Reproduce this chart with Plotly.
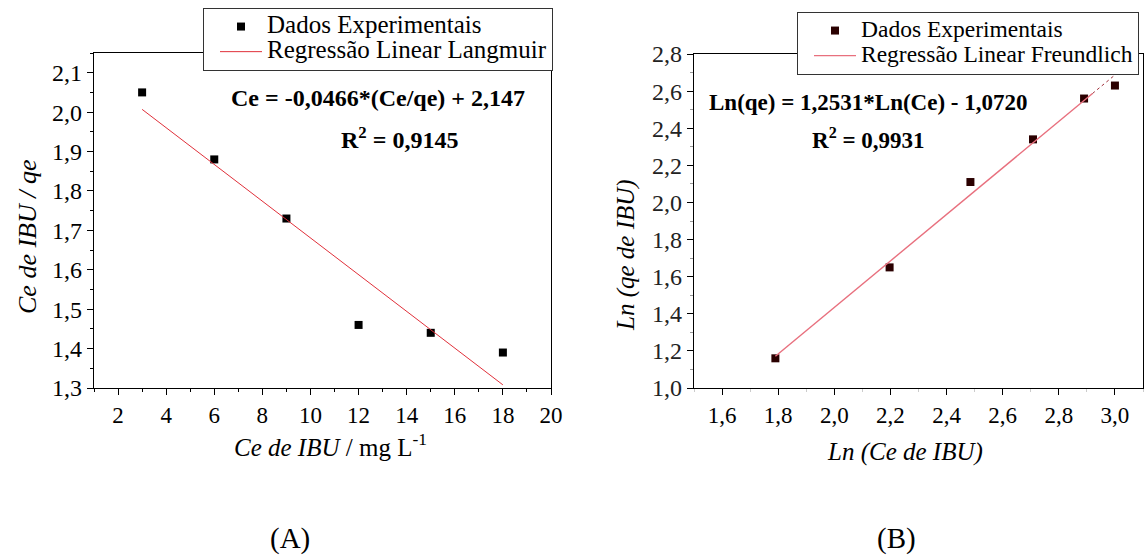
import plotly.graph_objects as go

W, H = 1145, 556

# ---------- data (A) Langmuir ----------
lang_x = [3, 6, 9, 12, 15, 18]
lang_y = [2.05, 1.88, 1.73, 1.46, 1.44, 1.39]
lang_fit_x = [3, 18]
lang_fit_y = [2.007, 1.308]

# ---------- data (B) Freundlich ----------
freu_x = [1.79, 2.197, 2.485, 2.708, 2.89, 3.0]
freu_y = [1.16, 1.65, 2.11, 2.34, 2.56, 2.63]
freu_fit_x = [1.79, 2.92]
freu_fit_y = [1.171, 2.587]
freu_ext_x = [2.92, 3.0]
freu_ext_y = [2.587, 2.687]

SERIF = "Liberation Serif"

def px(x):
    return x / W

def py(y):
    return 1 - y / H

def big(t, size):
    return '<span style="font-size:%spx">%s</span>' % (size, t)

fig = go.Figure()

fig.add_trace(go.Scatter(x=lang_x, y=lang_y, mode="markers", name=big("Dados Experimentais", 25),
                         marker=dict(symbol="square", size=8, color="black"),
                         xaxis="x", yaxis="y", legend="legend"))
fig.add_trace(go.Scatter(x=lang_fit_x, y=lang_fit_y, mode="lines", name=big("Regressão Linear Langmuir", 25),
                         line=dict(color="#e0303a", width=1),
                         xaxis="x", yaxis="y", legend="legend"))

fig.add_trace(go.Scatter(x=freu_x, y=freu_y, mode="markers", name=big("Dados Experimentais", 23.5),
                         marker=dict(symbol="square", size=8, color="#2a0000"),
                         xaxis="x2", yaxis="y2", legend="legend2"))
fig.add_trace(go.Scatter(x=freu_fit_x, y=freu_fit_y, mode="lines", name=big("Regressão Linear Freundlich", 23.5),
                         line=dict(color="#e8707e", width=1.4),
                         xaxis="x2", yaxis="y2", legend="legend2"))
fig.add_trace(go.Scatter(x=freu_ext_x, y=freu_ext_y, mode="lines", showlegend=False,
                         line=dict(color="#a0303a", width=1, dash="dot"),
                         xaxis="x2", yaxis="y2"))

axis_common = dict(showline=True, linecolor="black", linewidth=1.3, mirror=True,
                   ticks="outside", ticklen=6, tickwidth=1.2, tickcolor="black",
                   showgrid=False, zeroline=False)

fig.update_layout(
    width=W, height=H,
    margin=dict(l=0, r=0, t=0, b=0, autoexpand=False),
    paper_bgcolor="white", plot_bgcolor="white",
    separators=", ",
    font=dict(family=SERIF, color="black"),
    xaxis=dict(domain=[px(94), px(551)], range=[1, 20], tick0=2, dtick=2, tickformat="d",
               minor=dict(ticks="outside", ticklen=3, dtick=1, tick0=1, tickcolor="black"),
               tickfont=dict(family=SERIF, size=23), anchor="y", **axis_common),
    yaxis=dict(domain=[py(388), py(53)], range=[1.3, 2.15], tick0=1.3, dtick=0.1, tickformat=".1f",
               minor=dict(ticks="outside", ticklen=3, dtick=0.05, tick0=1.3, tickcolor="black"),
               tickfont=dict(family=SERIF, size=24), anchor="x", **axis_common),
    xaxis2=dict(domain=[px(694), px(1143)], range=[1.5, 3.1], tick0=1.6, dtick=0.2, tickformat=".1f",
                minor=dict(ticks="outside", ticklen=3, dtick=0.1, tick0=1.5, tickcolor="#cccccc"),
                tickfont=dict(family=SERIF, size=23), anchor="y2", **axis_common),
    yaxis2=dict(domain=[py(388), py(54)], range=[1.0, 2.8], tick0=1.0, dtick=0.2, tickformat=".1f",
                minor=dict(ticks="outside", ticklen=3, dtick=0.1, tick0=1.0, tickcolor="#999999"),
                tickfont=dict(family=SERIF, size=24, color="#222222"), anchor="x2", **axis_common),
    legend=dict(x=px(203), y=py(8), xanchor="left", yanchor="top",
                bordercolor="#333333", borderwidth=1, bgcolor="white", indentation=11,
                font=dict(family=SERIF, size=17), itemwidth=42, tracegroupgap=0),
    legend2=dict(x=px(797), y=py(12), xanchor="left", yanchor="top",
                 bordercolor="#333333", borderwidth=1, bgcolor="white", indentation=11,
                 font=dict(family=SERIF, size=17), itemwidth=42, tracegroupgap=0),
)

def ann(x, y, text, size, angle=0):
    fig.add_annotation(x=px(x), y=py(y), xref="paper", yref="paper", text=text,
                       showarrow=False, textangle=angle, xanchor="center", yanchor="middle",
                       font=dict(family=SERIF, size=size, color="black"))

ann(27, 237, "<i>Ce de IBU / qe</i>", 26, angle=-90)
ann(330, 445, "<i>Ce de IBU</i> / mg L<sup>-1</sup>", 25)
ann(626, 255, "<i>Ln (qe de IBU)</i>", 25, angle=-90)
ann(905, 452, "<i>Ln (Ce de IBU)</i>", 25)
ann(378, 98, "<b>Ce = -0,0466*(Ce/qe) + 2,147</b>", 24)
ann(399, 138, "<b>R<sup>2</sup> = 0,9145</b>", 24)
ann(868, 103, "<b>Ln(qe) = 1,2531*Ln(Ce) - 1,0720</b>", 23)
ann(868, 138, "<b>R<sup>2</sup> = 0,9931</b>", 23)
ann(290, 538, "(A)", 29)
ann(896, 538, "(B)", 29)

fig.write_html("out.html")
